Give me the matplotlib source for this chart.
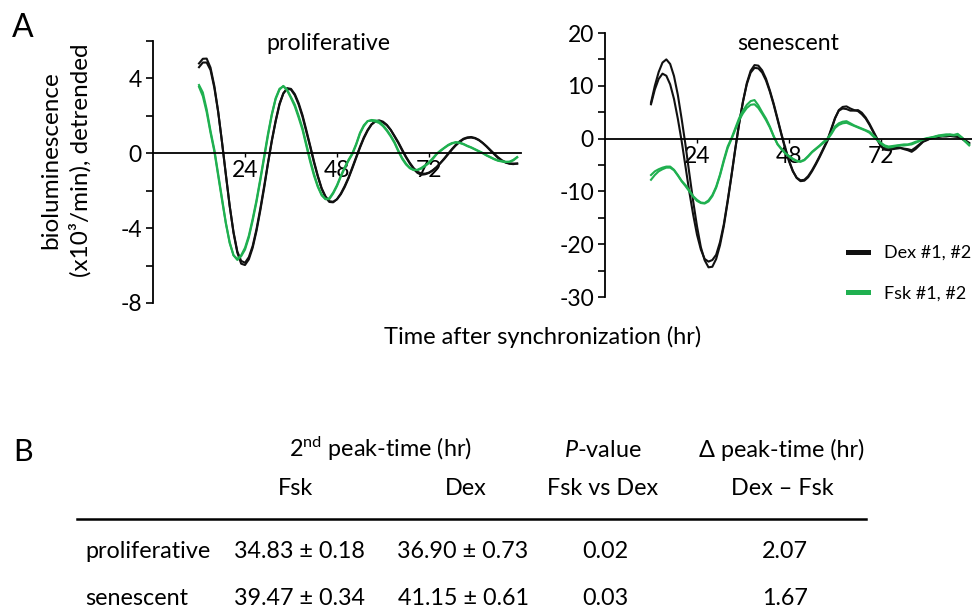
import matplotlib
matplotlib.use('Agg')
import matplotlib.pyplot as plt
from matplotlib.lines import Line2D
from matplotlib.ticker import MultipleLocator

plt.rcParams['font.family'] = ['Lato', 'DejaVu Sans']
plt.rcParams['mathtext.fontset'] = 'custom'
plt.rcParams['mathtext.rm'] = 'Lato'
plt.rcParams['mathtext.it'] = 'Lato:italic'
plt.rcParams['axes.unicode_minus'] = False

BLACK = '#111111'
GREEN = '#20b050'

# time after synchronization (hr), one reading per hour
hours = list(range(12, 96))

# proliferative, x10^3/min (rows of 12 h)
prol_dex_1 = [4.8, 5.05, 5.06, 4.58, 3.6, 2.24, 0.6, -1.15, -2.81, -4.25, -5.31, -5.9,
              -5.97, -5.67, -5.05, -4.15, -3.05, -1.85, -0.55, 0.65, 1.7, 2.6, 3.2, 3.48,
              3.44, 3.16, 2.68, 2.04, 1.24, 0.41, -0.43, -1.2, -1.87, -2.3, -2.56, -2.59,
              -2.46, -2.19, -1.81, -1.34, -0.81, -0.25, 0.3, 0.8, 1.21, 1.53, 1.71, 1.76,
              1.69, 1.52, 1.26, 0.93, 0.59, 0.2, -0.18, -0.51, -0.79, -0.99, -1.08, -1.09,
              -1.03, -0.9, -0.73, -0.51, -0.27, -0.02, 0.23, 0.46, 0.64, 0.78, 0.85, 0.87,
              0.82, 0.72, 0.56, 0.38, 0.18, -0.02, -0.21, -0.37, -0.48, -0.54, -0.55, -0.55]
prol_dex_2 = [4.6, 4.85, 4.85, 4.45, 3.5, 2.2, 0.6, -1.1, -2.8, -4.2, -5.25, -5.75,
              -5.85, -5.55, -4.95, -4.05, -2.95, -1.75, -0.5, 0.7, 1.75, 2.65, 3.2, 3.45,
              3.4, 3.1, 2.6, 1.95, 1.15, 0.35, -0.5, -1.25, -1.9, -2.35, -2.6, -2.62,
              -2.45, -2.15, -1.75, -1.3, -0.75, -0.2, 0.35, 0.85, 1.25, 1.55, 1.7, 1.72,
              1.65, 1.5, 1.25, 0.9, 0.55, 0.15, -0.22, -0.55, -0.85, -1.05, -1.15, -1.12,
              -1.05, -0.92, -0.75, -0.52, -0.3, -0.05, 0.2, 0.42, 0.6, 0.75, 0.82, 0.84,
              0.8, 0.7, 0.55, 0.36, 0.15, -0.05, -0.25, -0.4, -0.5, -0.56, -0.58, -0.55]
prol_fsk_1 = [3.65, 3.25, 2.35, 1.2, 0.2, -1.1, -2.4, -3.7, -4.75, -5.45, -5.7, -5.5,
              -5.15, -4.5, -3.6, -2.6, -1.45, -0.25, 0.95, 2.05, 2.9, 3.4, 3.6, 3.4,
              3.0, 2.6, 2.0, 1.35, 0.5, -0.35, -1.1, -1.75, -2.2, -2.45, -2.45, -2.15,
              -1.75, -1.25, -0.8, -0.4, -0.05, 0.45, 1.05, 1.45, 1.72, 1.78, 1.76, 1.7,
              1.5, 1.25, 0.95, 0.6, 0.15, -0.25, -0.55, -0.78, -0.88, -0.9, -0.82, -0.68,
              -0.52, -0.3, -0.05, 0.12, 0.28, 0.42, 0.52, 0.6, 0.57, 0.5, 0.4, 0.32,
              0.22, 0.12, 0.02, -0.1, -0.2, -0.3, -0.38, -0.42, -0.45, -0.46, -0.38, -0.22]
prol_fsk_2 = [3.55, 3.05, 2.2, 1.1, 0.1, -1.2, -2.5, -3.75, -4.8, -5.45, -5.65, -5.45,
              -5.05, -4.4, -3.5, -2.5, -1.35, -0.15, 1.05, 2.1, 2.95, 3.45, 3.58, 3.35,
              2.95, 2.5, 1.9, 1.25, 0.4, -0.45, -1.2, -1.8, -2.25, -2.45, -2.4, -2.1,
              -1.7, -1.2, -0.75, -0.35, 0.0, 0.5, 1.1, 1.5, 1.72, 1.74, 1.7, 1.62,
              1.45, 1.2, 0.9, 0.55, 0.1, -0.3, -0.6, -0.8, -0.9, -0.88, -0.78, -0.64,
              -0.48, -0.26, -0.02, 0.15, 0.3, 0.45, 0.55, 0.58, 0.55, 0.48, 0.38, 0.3,
              0.2, 0.1, 0.0, -0.12, -0.22, -0.32, -0.4, -0.44, -0.47, -0.45, -0.35, -0.2]

# senescent, x10^3/min
sen_dex_1 = [6.8, 10.0, 12.6, 14.4, 15.0, 14.13, 11.84, 8.28, 3.7, -1.2, -6.6, -11.86,
             -16.6, -20.55, -23.04, -24.38, -24.27, -22.8, -20.2, -16.57, -12.0, -7.06, -1.98, 2.84,
             7.07, 10.54, 12.85, 13.92, 13.82, 12.92, 11.35, 9.14, 6.64, 3.83, 0.96, -1.69,
             -4.12, -6.11, -7.46, -8.06, -7.97, -7.32, -6.2, -4.9, -3.5, -2.0, -0.5, 1.6,
             3.8, 5.4, 6.0, 6.1, 5.7, 5.4, 5.2, 4.6, 3.8, 2.6, 1.2, -0.2,
             -1.5, -2.1, -2.2, -2.0, -1.9, -1.8, -1.9, -2.0, -2.2, -1.7, -1.1, -0.5,
             -0.2, 0.0, 0.2, 0.3, 0.4, 0.4, 0.5, 0.4, 0.4, 0.2, -0.3, -0.8]
sen_dex_2 = [6.5, 9.3, 11.3, 12.3, 11.9, 10.27, 7.5, 3.76, -0.5, -5.3, -10.1, -14.4,
             -18.2, -21.0, -22.8, -23.3, -23.0, -22.0, -19.6, -16.2, -11.7, -6.9, -1.8, 2.9,
             7.0, 10.3, 12.5, 13.4, 13.3, 12.5, 11.0, 8.9, 6.4, 3.6, 0.8, -1.9,
             -4.3, -6.2, -7.4, -7.9, -7.8, -7.1, -6.0, -4.7, -3.3, -1.8, -0.3, 1.8,
             3.9, 5.3, 5.7, 5.6, 5.3, 5.3, 5.4, 4.9, 4.0, 2.8, 1.4, 0.0,
             -1.4, -2.0, -2.0, -1.8, -1.6, -1.7, -2.0, -2.2, -2.5, -2.0, -1.3, -0.6,
             -0.3, 0.1, 0.3, 0.5, 0.5, 0.6, 0.7, 0.5, 0.3, 0.0, -0.5, -1.0]
sen_fsk_1 = [-6.9, -6.2, -5.8, -5.5, -5.3, -5.3, -5.9, -6.9, -8.0, -8.8, -9.8, -10.9,
             -11.6, -12.1, -12.2, -11.7, -10.7, -9.1, -6.8, -4.0, -1.5, 0.1, 2.0, 3.9,
             5.3, 6.4, 7.1, 7.3, 6.3, 5.0, 3.8, 2.3, 0.5, -1.0, -1.9, -2.7,
             -3.3, -3.8, -4.2, -4.3, -4.0, -3.3, -2.5, -1.9, -1.3, -0.6, 0.0, 1.0,
             2.3, 2.9, 3.2, 3.3, 2.9, 2.5, 2.2, 1.9, 1.6, 1.3, 0.6, -0.1,
             -0.8, -1.3, -1.5, -1.4, -1.3, -1.2, -1.1, -1.1, -0.9, -0.6, -0.4, -0.1,
             0.1, 0.2, 0.4, 0.6, 0.7, 0.8, 0.8, 0.7, 0.9, 0.3, -0.5, -1.1]
sen_fsk_2 = [-7.8, -6.9, -6.2, -5.8, -5.5, -5.5, -6.0, -7.0, -8.1, -9.0, -10.0, -11.0,
             -11.8, -12.2, -12.3, -11.9, -10.9, -9.3, -7.0, -4.3, -1.8, -0.1, 1.7, 3.5,
             4.8, 5.8, 6.4, 6.5, 5.8, 4.7, 3.5, 2.1, 0.4, -1.1, -2.0, -2.8,
             -3.4, -3.9, -4.3, -4.4, -4.1, -3.4, -2.6, -2.0, -1.4, -0.8, -0.2, 0.8,
             2.0, 2.6, 2.9, 3.0, 2.7, 2.4, 2.1, 1.8, 1.5, 1.1, 0.4, -0.3,
             -1.0, -1.5, -1.7, -1.6, -1.4, -1.3, -1.3, -1.2, -1.1, -0.8, -0.5, -0.2,
             0.0, 0.2, 0.3, 0.5, 0.5, 0.6, 0.7, 0.6, 0.7, 0.2, -0.6, -1.3]

# table B
row_labels = ['proliferative', 'senescent']
fsk_peak = [34.83, 39.47]
fsk_sem = [0.18, 0.34]
dex_peak = [36.90, 41.15]
dex_sem = [0.73, 0.61]
p_values = [0.02, 0.03]
delta_peak = [2.07, 1.67]

W, H = 972, 609


def fx(px):
    return px / W


def fy(py):
    return 1 - py / H


def style_axis(ax, ylim, major, minor):
    ax.set_xlim(0, 96)
    ax.set_ylim(*ylim)
    for s in ['top', 'right']:
        ax.spines[s].set_visible(False)
    ax.spines['bottom'].set_position(('data', 0))
    ax.spines['left'].set_linewidth(1.3)
    ax.spines['bottom'].set_linewidth(1.3)
    ax.set_xticks([24, 48, 72])
    ax.yaxis.set_major_locator(MultipleLocator(major))
    ax.yaxis.set_minor_locator(MultipleLocator(minor))
    ax.tick_params(axis='x', length=3, width=1, pad=2, labelsize=16.5)
    ax.tick_params(axis='y', which='both', length=5, width=1.2, pad=3, labelsize=16.5)
    ax.set_facecolor('none')


fig = plt.figure(figsize=(W / 100, H / 100), dpi=100)

ax1 = fig.add_axes([fx(153), fy(303), fx(368), 262 / H])
ax2 = fig.add_axes([fx(605), fy(297), fx(368), 264 / H])

for y in [prol_dex_1, prol_dex_2]:
    ax1.plot(hours, y, color=BLACK, lw=1.5, clip_on=False)
for y in [prol_fsk_1, prol_fsk_2]:
    ax1.plot(hours, y, color=GREEN, lw=1.5, clip_on=False)
for y in [sen_dex_1, sen_dex_2]:
    ax2.plot(hours, y, color=BLACK, lw=1.5)
for y in [sen_fsk_1, sen_fsk_2]:
    ax2.plot(hours, y, color=GREEN, lw=1.5)

style_axis(ax1, (-8, 6), 4, 2)
ax1.set_yticks([-8, -4, 0, 4])
style_axis(ax2, (-30, 20), 10, 5)

ax1.text(0.476, 0.99, 'proliferative', transform=ax1.transAxes, ha='center', va='center', fontsize=16.7)
ax2.text(0.497, 0.962, 'senescent', transform=ax2.transAxes, ha='center', va='center', fontsize=16.7)

# y label drawn as a rotated figure text so its centre can be placed directly
fig.text(fx(66), fy(160), 'bioluminescence\n(x10\u00b3/min), detrended', rotation=90,
         ha='center', va='center', multialignment='center', fontsize=17.5, linespacing=1.4)

fig.text(fx(543), fy(337), 'Time after synchronization (hr)', ha='center', va='center', fontsize=17)

handles = [Line2D([], [], color=BLACK, lw=3.6), Line2D([], [], color=GREEN, lw=3.6)]
fig.legend(handles, ['Dex #1, #2', 'Fsk #1, #2'], loc='upper left', bbox_to_anchor=(fx(848), fy(245)),
           frameon=False, fontsize=13, handlelength=1.1, handletextpad=0.9, labelspacing=1.35,
           borderpad=0, borderaxespad=0)

fig.text(fx(12), fy(37), 'A', fontsize=23, va='baseline', ha='left')
fig.text(fx(13), fy(461), 'B', fontsize=22, va='baseline', ha='left')

# table B
tsize = 16.8
fig.text(fx(380), fy(457), r'2$^{\mathrm{nd}}$ peak-time (hr)', ha='center', va='baseline', fontsize=tsize)
fig.text(fx(603), fy(457), r'$P$-value', ha='center', va='baseline', fontsize=tsize)
fig.text(fx(782), fy(457), '\u0394 peak-time (hr)', ha='center', va='baseline', fontsize=tsize)
fig.text(fx(295), fy(495), 'Fsk', ha='center', va='baseline', fontsize=tsize)
fig.text(fx(466), fy(495), 'Dex', ha='center', va='baseline', fontsize=tsize)
fig.text(fx(603), fy(495), 'Fsk vs Dex', ha='center', va='baseline', fontsize=tsize)
fig.text(fx(782), fy(495), 'Dex \u2013 Fsk', ha='center', va='baseline', fontsize=tsize)
fig.add_artist(Line2D([fx(77), fx(866)], [fy(519), fy(519)], color='black', lw=1.8))

row_base = [558, 605]
for i, lab in enumerate(row_labels):
    yb = fy(row_base[i])
    fig.text(fx(85), yb, lab, ha='left', va='baseline', fontsize=tsize)
    fig.text(fx(299), yb, f'{fsk_peak[i]:.2f} \u00b1 {fsk_sem[i]:.2f}', ha='center', va='baseline', fontsize=tsize)
    fig.text(fx(463), yb, f'{dex_peak[i]:.2f} \u00b1 {dex_sem[i]:.2f}', ha='center', va='baseline', fontsize=tsize)
    fig.text(fx(605), yb, f'{p_values[i]:.2f}', ha='center', va='baseline', fontsize=tsize)
    fig.text(fx(785), yb, f'{delta_peak[i]:.2f}', ha='center', va='baseline', fontsize=tsize)

fig.savefig('out.png', dpi=100)
